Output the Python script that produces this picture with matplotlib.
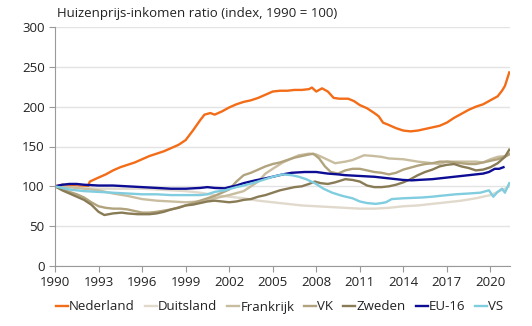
import matplotlib
matplotlib.use("Agg")
import matplotlib.pyplot as plt

plt.rcParams['font.family'] = ['Open Sans', 'DejaVu Sans']

# Huizenprijs-inkomen ratio, index 1990 = 100
nl_years = [1990, 1990.5, 1991, 1991.5, 1992, 1992.25, 1992.4, 1993, 1993.5, 1994, 1994.5, 1995, 1995.5,
            1996, 1996.5, 1997, 1997.5, 1998, 1998.5, 1999, 1999.5, 2000, 2000.3, 2000.7, 2001, 2001.5,
            2002, 2002.5, 2003, 2003.5, 2004, 2004.5, 2005, 2005.5, 2006, 2006.5, 2007, 2007.5, 2007.7,
            2008.0, 2008.4, 2008.8, 2009.2, 2009.6, 2010.2, 2010.6, 2011, 2011.5, 2012, 2012.3, 2012.6,
            2013, 2013.5, 2014, 2014.5, 2015, 2015.5, 2016, 2016.5, 2017, 2017.5, 2018, 2018.5, 2019,
            2019.5, 2020, 2020.5, 2020.8, 2021.0, 2021.3]
nl_values = [100, 102, 101, 100, 100, 99, 106, 111, 115, 120, 124, 127, 130,
             134, 138, 141, 144, 148, 152, 158, 170, 183, 190, 192, 190, 194,
             199, 203, 206, 208, 211, 215, 219, 220, 220, 221, 221, 222, 224,
             219, 223, 219, 211, 210, 210, 207, 202, 198, 192, 188, 180,
             177, 173, 170, 169, 170, 172, 174, 176, 180, 186, 191, 196, 200,
             203, 208, 213, 220, 226, 243]

de_years = [1990, 1991, 1992, 1993, 1994, 1995, 1996, 1997, 1998, 1999, 2000, 2001, 2002, 2003, 2004, 2005,
            2006, 2007, 2008, 2009, 2010, 2011, 2012, 2013, 2014, 2015, 2016, 2017, 2018, 2019, 2020,
            2020.5, 2021, 2021.3]
de_values = [100, 99, 98, 97, 97, 97, 97, 96, 95, 94, 92, 89, 87, 85, 82, 80,
             78, 76, 75, 74, 73, 72, 72, 73, 75, 76, 78, 80, 82, 85, 89,
             93, 97, 100]

fr_years = [1990, 1991, 1992, 1993, 1994, 1995, 1996, 1997, 1998, 1999, 2000, 2001, 2002, 2003, 2004,
            2004.5, 2005, 2005.7, 2006.3, 2006.8, 2007.5, 2008, 2008.6, 2009.3, 2010, 2010.5, 2011.3,
            2012, 2012.5, 2013, 2014, 2015, 2016, 2016.5, 2017, 2018, 2019, 2019.5, 2020, 2020.5, 2021,
            2021.3]
fr_values = [100, 99, 97, 95, 91, 88, 84, 82, 81, 80, 81, 85, 89, 94, 106,
             116, 122, 130, 135, 139, 141, 140, 135, 129, 131, 133, 139,
             138, 137, 135, 134, 131, 129, 128, 131, 131, 131, 130, 134, 137, 138,
             141]

uk_years = [1990, 1990.5, 1991, 1991.5, 1992, 1992.5, 1993, 1993.5, 1994, 1994.5, 1995, 1995.5, 1996,
            1996.5, 1997, 1998, 1999, 2000, 2001, 2002, 2002.5, 2003, 2003.5, 2004, 2004.5, 2005, 2005.5,
            2006, 2006.5, 2007, 2007.5, 2007.8, 2008.2, 2008.6, 2009, 2009.5, 2010, 2010.5, 2011, 2011.5,
            2012, 2012.5, 2013, 2013.5, 2014, 2014.6, 2015, 2015.5, 2016, 2016.5, 2017, 2017.5, 2018,
            2018.5, 2019, 2019.5, 2020, 2020.5, 2021, 2021.3]
uk_values = [100, 97, 93, 90, 86, 80, 75, 73, 72, 72, 71, 69, 67,
             67, 68, 71, 76, 82, 88, 96, 106, 114, 117, 121, 125, 128, 130,
             133, 136, 138, 140, 141, 135, 125, 118, 116, 120, 122, 122, 120,
             118, 117, 115, 117, 121, 124, 126, 128, 129, 131, 131, 130, 129,
             128, 128, 130, 132, 134, 137, 140]

se_years = [1990, 1990.5, 1991, 1991.5, 1992, 1992.5, 1993, 1993.4, 1994, 1994.6, 1995, 1995.7, 1996.5,
            1997, 1997.5, 1998, 1998.5, 1999, 1999.5, 2000, 2000.5, 2001, 2001.5, 2002, 2002.5, 2003,
            2003.5, 2004, 2004.5, 2005, 2005.5, 2006, 2006.5, 2007, 2007.5, 2007.9, 2008.3, 2008.8,
            2009.3, 2010, 2010.5, 2011, 2011.5, 2012, 2012.5, 2013, 2013.5, 2014, 2014.5, 2015, 2015.5,
            2016, 2016.5, 2017, 2017.5, 2018, 2018.5, 2019, 2019.5, 2020, 2020.5, 2021, 2021.3]
se_values = [100, 95, 91, 87, 83, 77, 68, 64, 66, 67, 66, 65, 65,
             66, 68, 71, 73, 76, 77, 79, 81, 82, 81, 80, 81, 83,
             84, 87, 89, 92, 95, 97, 99, 100, 103, 106, 104, 103,
             105, 109, 108, 106, 101, 99, 99, 100, 102, 105, 109, 114, 118,
             121, 125, 127, 128, 125, 123, 120, 121, 124, 129, 137, 146]

eu_years = [1990, 1990.5, 1991, 1991.5, 1992, 1993, 1994, 1995, 1996, 1997, 1998, 1999, 2000, 2000.5,
            2001, 2001.7, 2002, 2002.5, 2003, 2003.8, 2004.5, 2005, 2005.7, 2006.3, 2007.2, 2008, 2008.8,
            2009.5, 2010, 2011, 2012, 2012.5, 2013, 2014, 2014.6, 2015, 2016, 2016.5, 2017, 2018, 2018.5,
            2019, 2019.5, 2019.9, 2020.3, 2020.6, 2020.9]
eu_values = [100, 102, 103, 103, 102, 101, 101, 100, 99, 98, 97, 97, 98, 99,
             98, 97.5, 99, 101, 104, 107.5, 110, 112, 115, 117, 118, 118, 116,
             115, 114, 113, 112, 111, 110, 108, 107.5, 108, 109, 110, 111, 113, 114,
             115, 116, 118, 122, 122, 124]

us_years = [1990, 1990.5, 1991, 1991.5, 1992, 1993, 1994, 1995, 1996, 1997, 1998, 1999, 2000, 2000.5,
            2001, 2001.7, 2002.5, 2003, 2003.8, 2004.5, 2005, 2005.7, 2006.3, 2006.8, 2007.3, 2007.9,
            2008.5, 2009.1, 2009.8, 2010.5, 2011, 2011.5, 2012.1, 2012.5, 2012.8, 2013.2, 2014, 2015.3,
            2016, 2016.5, 2017.6, 2018.5, 2019.3, 2019.9, 2020.2, 2020.5, 2020.8, 2021.0, 2021.3]
us_values = [100, 98, 96, 95, 94, 93, 92, 91, 90, 90, 89, 89, 89, 90,
             93, 95, 99, 101, 105, 109, 112, 115, 114, 112, 109, 104,
             97, 92, 88, 85, 81, 79, 78, 79, 80, 84, 85, 86,
             87, 88, 90, 91, 92, 95, 87, 93, 97, 92, 104]

series = [
    ("Nederland", nl_years, nl_values, "#f36c17"),
    ("Duitsland", de_years, de_values, "#e0d9cc"),
    ("Frankrijk", fr_years, fr_values, "#c9bd9f"),
    ("VK", uk_years, uk_values, "#b1a37e"),
    ("Zweden", se_years, se_values, "#887b55"),
    ("EU-16", eu_years, eu_values, "#0c0c94"),
    ("VS", us_years, us_values, "#80cde0"),
]

fig = plt.figure(figsize=(5.32, 3.26), dpi=100)
ax = fig.add_axes([55 / 532, 1 - 266 / 326, (510 - 55) / 532, (266 - 27) / 326])

for name, xs, ys, col in series:
    ax.plot(xs, ys, color=col, lw=1.7, label=name)

ax.set_xlim(1990, 2021.35)
ax.set_ylim(0, 300)
ax.set_xticks(range(1990, 2021, 3))
ax.set_yticks(range(0, 301, 50))
ax.grid(axis='y', color='#e3e3e3', lw=1)
ax.set_axisbelow(True)
for s in ['top', 'right']:
    ax.spines[s].set_visible(False)
for s in ['left', 'bottom']:
    ax.spines[s].set_color('#999999')
ax.tick_params(direction='out', length=4, color='#999999', labelsize=9.5, labelcolor='#222222')

fig.text(57 / 532, 1 - 14 / 326, "Huizenprijs-inkomen ratio (index, 1990 = 100)",
         fontsize=9.5, color='#222222', va='center', ha='left')

fig.legend(loc='center left', bbox_to_anchor=(56 / 532, 1 - 307 / 326), ncol=7, frameon=False,
           fontsize=9.5, handlelength=0.9, handletextpad=0.1, columnspacing=0.75,
           labelcolor='#222222', borderaxespad=0, borderpad=0)

fig.savefig("out.png", dpi=100)
